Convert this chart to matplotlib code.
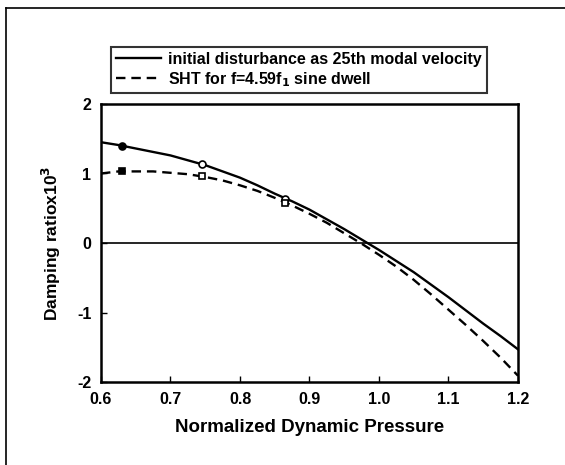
import numpy as np
import matplotlib
matplotlib.use('Agg')
import matplotlib.pyplot as plt
from matplotlib.lines import Line2D

plt.rcParams['font.family'] = ['Liberation Sans', 'DejaVu Sans']
plt.rcParams['font.weight'] = 'bold'
plt.rcParams['mathtext.default'] = 'bf'
plt.rcParams['axes.unicode_minus'] = False

# curve points
q = [0.600, 0.625, 0.650, 0.675, 0.700, 0.725, 0.750, 0.775, 0.800, 0.825,
     0.850, 0.875, 0.900, 0.925, 0.950, 0.975, 1.000, 1.025, 1.050, 1.075,
     1.100, 1.125, 1.150, 1.175, 1.200]
zeta_init = [1.45, 1.41, 1.36, 1.31, 1.26, 1.19, 1.12, 1.03, 0.94, 0.83,
             0.71, 0.60, 0.48, 0.34, 0.20, 0.05, -0.10, -0.26, -0.42, -0.60,
             -0.78, -0.97, -1.16, -1.34, -1.53]
zeta_sht = [1.00, 1.03, 1.03, 1.03, 1.01, 0.99, 0.95, 0.90, 0.83, 0.75,
            0.65, 0.54, 0.42, 0.29, 0.14, -0.01, -0.17, -0.34, -0.53, -0.74,
            -0.96, -1.18, -1.41, -1.65, -1.91]

# marked points
q_mark = [0.63, 0.745, 0.865]
init_mark = [1.40, 1.13, 0.64]
sht_mark = [1.03, 0.96, 0.58]
filled = [True, False, False]

label_init = 'initial disturbance as 25th modal velocity'
label_sht = 'SHT for f=4.59f$_1$ sine dwell'

fig = plt.figure(figsize=(5.65, 4.65), dpi=100)
ax = fig.add_axes([101 / 565, 1 - 382 / 465, 417 / 565, 278 / 465])

ax.plot(q, zeta_init, 'k-', lw=1.7, label=label_init)
ax.plot(q, zeta_sht, 'k--', lw=1.7, dashes=(4, 2.5), label=label_sht)
for x, y1, y2, f in zip(q_mark, init_mark, sht_mark, filled):
    fc = 'k' if f else 'white'
    ax.plot(x, y1, 'o', ms=5, mfc=fc, mec='k', mew=1.2)
    ax.plot(x, y2, 's', ms=4.5, mfc=fc, mec='k', mew=1.2)

ax.axhline(0, color='k', lw=1.2)

ax.set_xlim(0.6, 1.2)
ax.set_ylim(-2, 2)
ax.set_xticks(np.arange(0.6, 1.21, 0.1))
ax.set_xticklabels(['0.6', '0.7', '0.8', '0.9', '1.0', '1.1', '1.2'])
ax.set_yticks([-2, -1, 0, 1, 2])
ax.tick_params(direction='in', length=4, width=1, labelsize=11.5, pad=7)
for s in ax.spines.values():
    s.set_linewidth(1.8)

ax.set_xlabel('Normalized Dynamic Pressure', fontsize=13.5, fontweight='bold', labelpad=9)
ax.set_ylabel('Damping ratiox10$^3$', fontsize=12.5, fontweight='bold', labelpad=10)

leg = fig.legend(handles=ax.get_lines()[:2], loc='upper left',
                 bbox_to_anchor=(111 / 565, 1 - 47 / 465), fontsize=11.5,
                 frameon=True, fancybox=False, handlelength=2.8,
                 borderpad=0.3, labelspacing=0.2, handletextpad=0.5,
                 borderaxespad=0)
leg.get_frame().set_edgecolor('k')
leg.get_frame().set_linewidth(1.5)

# outer frame of the scanned figure
fig.add_artist(Line2D([6 / 565, 6 / 565], [1 - 8 / 465, 0], color='k', lw=1.2))
fig.add_artist(Line2D([6 / 565, 1], [1 - 8 / 465, 1 - 8 / 465], color='k', lw=1.2))

fig.savefig('out.png', dpi=100)
